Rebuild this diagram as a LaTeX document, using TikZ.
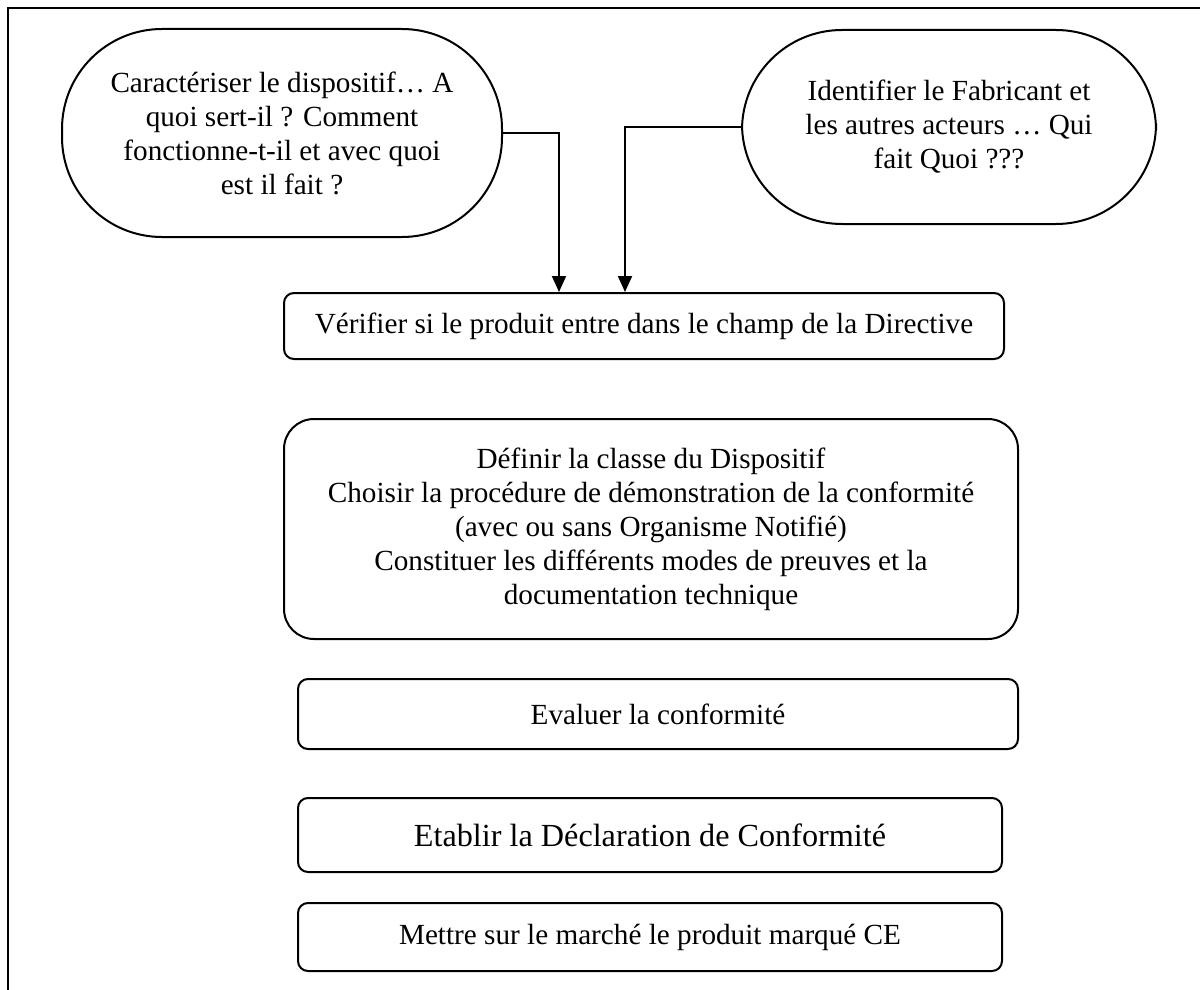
\documentclass[tikz,border=0pt]{standalone}
\usepackage{fontspec}
\setmainfont{Liberation Serif}
\usetikzlibrary{arrows.meta}
\begin{document}
\begin{tikzpicture}[x=0.5pt,y=-0.5pt,line width=1pt,
		every node/.style={font=\fontsize{14.6}{17}\selectfont,align=center,inner sep=0pt},
		question/.style={draw,rounded corners=50pt,minimum width=#1},
		stepbox/.style={draw,rounded corners=5pt},
		flow/.style={-{Triangle[length=8pt,width=7pt]}}]
		\useasboundingbox (0,0) rectangle (1200,990);
		\draw (8,990) -- (8,8) -- (1200,8);
		\node[question=220pt,minimum height=104pt] (carac) at (282,133) {Caractériser le dispositif\dots\ A\\quoi sert-il ? Comment\\fonctionne-t-il et avec quoi\\est il fait ?};
		\node[question=207pt,minimum height=97pt] (ident) at (949,127) {Identifier le Fabricant et\\les autres acteurs \dots\ Qui\\fait Quoi ???};
		\node[stepbox,minimum width=360pt,minimum height=33pt] (verif) at (644,326) {Vérifier si le produit entre dans le champ de la Directive};
		\node[stepbox,rounded corners=15pt,minimum width=367pt,minimum height=110pt] (defin) at (651,529) {Définir la classe du Dispositif\\Choisir la procédure de démonstration de la conformité\\(avec ou sans Organisme Notifié)\\Constituer les différents modes de preuves et la\\documentation technique};
		\node[stepbox,minimum width=360pt,minimum height=35pt] (eval) at (658,714) {Evaluer la conformité};
		\node[stepbox,minimum width=352pt,minimum height=37pt,font=\fontsize{16.1}{18}\selectfont] (etab) at (650,835) {Etablir la Déclaration de Conformité};
		\node[stepbox,minimum width=352pt,minimum height=34pt] (mettre) at (650,937) {Mettre sur le marché le produit marqué CE};
		\draw[flow] (carac.east) -| ([xshift=-42.5pt]verif.north);
		\draw[flow] (ident.west) -| ([xshift=-9.5pt]verif.north);
	\end{tikzpicture}
\end{document}
